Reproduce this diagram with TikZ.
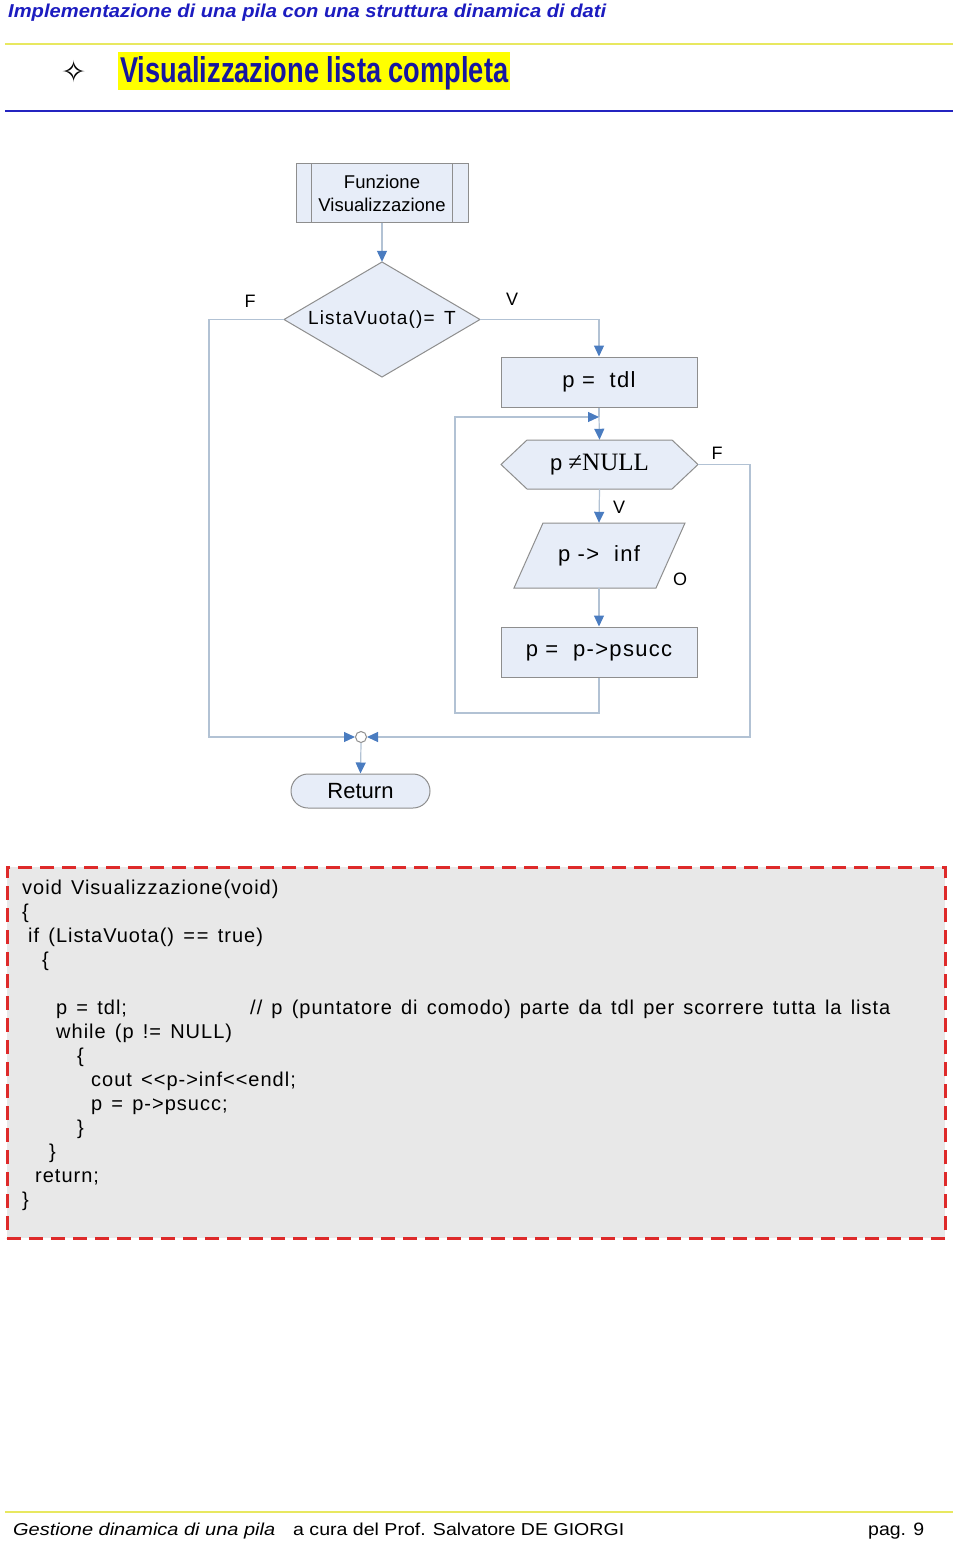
\documentclass[tikz,border=0pt]{standalone}
\usepackage{fontspec}
\setmainfont{Liberation Sans}
\newfontfamily\serifnull{Liberation Serif}
\newfontfamily\symfont{DejaVu Sans}
\newfontfamily\fcfont[LetterSpace=6]{Liberation Sans}
\newfontfamily\codefont[LetterSpace=5,WordSpace=1.4]{Liberation Sans}
\usetikzlibrary{arrows.meta,shapes.geometric,calc}
\definecolor{nodefill}{HTML}{E7EDF8}
\definecolor{nodeline}{HTML}{8E8E8E}
\definecolor{conline}{HTML}{B2C2D4}
\definecolor{arrowblue}{HTML}{4A7CC0}
\definecolor{hdrblue}{HTML}{1C1CC0}
\definecolor{titleblue}{HTML}{1616A0}
\definecolor{hlyellow}{HTML}{FFFF00}
\definecolor{ruleyellow}{HTML}{E8E860}
\definecolor{ruleblue}{HTML}{2424C0}
\definecolor{codebg}{HTML}{E8E8E8}
\definecolor{codered}{HTML}{DE2A2A}
\tikzset{
  fbox/.style={draw=nodeline, fill=nodefill, line width=1pt, inner sep=0pt, align=center},
  shapeline/.style={fill=nodefill, draw=nodeline, line width=1pt},
  con/.style={draw=conline, line width=1.2pt},
  arr/.style={con, -{Triangle[length=11pt,width=10pt,color=arrowblue]}},
  lbl/.style={inner sep=0pt, font=\fontsize{18}{20}\selectfont},
  codeline/.style={inner sep=0pt, anchor=base west, font=\codefont\fontsize{20}{24}\selectfont},
  rule/.style={line width=2.5pt},
}
\begin{document}
\begin{tikzpicture}[x=1pt,y=-1pt]
\useasboundingbox (0,0) rectangle (960,1541);
\fill[white] (0,0) rectangle (960,1541);

% header
\node[anchor=base west, inner sep=0pt, text=hdrblue] (hdr) at (8,18)
  {\resizebox{598pt}{13.5pt}{\bfseries\itshape Implementazione di una pila con una struttura dinamica di dati}};
\draw[rule, ruleyellow] (5,44) -- (953,44);
\node[inner sep=0pt, font=\symfont\fontsize{30}{30}\selectfont] (star) at (74,72) {✧};
\node[fill=hlyellow, minimum width=392, minimum height=38, inner sep=0pt] (titlebg) at (314,71) {};
\node[anchor=base west, inner sep=0pt, text=titleblue] (title) at (120,83)
  {\resizebox{388pt}{26pt}{\bfseries Visualizzazione lista completa}};
\draw[line width=2pt, ruleblue] (5,111) -- (953,111);

% flowchart
\node[fbox, minimum width=172, minimum height=58, font=\fontsize{18.5}{23}\selectfont] (fn) at (382,193) {Funzione\\Visualizzazione};
\draw[draw=nodeline, line width=1pt] ($(fn.north west)+(16,0)$) -- ($(fn.south west)+(16,0)$);
\draw[draw=nodeline, line width=1pt] ($(fn.north east)+(-16,0)$) -- ($(fn.south east)+(-16,0)$);

\filldraw[shapeline] (284,319.5) -- (382,262) -- (480,319.5) -- (382,377) -- cycle;
\node[inner sep=0pt, minimum width=196, minimum height=115, font=\fcfont\fontsize{19}{22}\selectfont] (lv) at (382,319.5) {ListaVuota()= \,T};

\node[fbox, minimum width=196, minimum height=50, font=\fcfont\fontsize{22}{24}\selectfont] (tdl) at (599,382) {p = \ tdl};

\filldraw[shapeline] (501,464.5) -- (527,440) -- (672,440) -- (698,464.5) -- (672,489) -- (527,489) -- cycle;
\node[inner sep=0pt, minimum width=197, minimum height=49] (nn) at (599.5,464.5) {\fontsize{22}{24}\selectfont p \serifnull\fontsize{25}{26}\selectfont ≠NULL};

\filldraw[shapeline] (543,523) -- (685,523) -- (656,588) -- (514,588) -- cycle;
\node[inner sep=0pt, minimum width=140, minimum height=65, font=\fcfont\fontsize{22}{24}\selectfont] (inf) at (599,555.5) {p -> \ inf};

\node[fbox, minimum width=196, minimum height=50, font=\fcfont\fontsize{22}{24}\selectfont] (ps) at (599,652) {p = \ p->psucc};

\node[circle, draw=nodeline, fill=white, line width=1pt, minimum size=11, inner sep=0pt] (j) at (361,737) {};
\node[fbox, rounded corners=17, minimum width=139, minimum height=34, font=\fontsize{22}{24}\selectfont] (ret) at (360.5,791) {Return};

\coordinate (lc) at (209,319.5);
\coordinate (rc) at (750,737);
\coordinate (lb) at (455,713);
\coordinate (lin) at (599,417);

\draw[arr] (fn.south) -- (lv.north);
\draw[arr] (lv.west) -- (lc) |- (j.west);
\draw[arr] (lv.east) -| (tdl.north);
\draw[con] (tdl.south) -- (lin);
\draw[arr] (lin) -- (nn.north);
\draw[arr] (ps.south) |- (lb) |- (lin);
\draw[arr] (nn.east) -| (rc) -- (j.east);
\draw[arr] (nn.south) -- (inf.north);
\draw[arr] (inf.south) -- (ps.north);
\draw[arr] (j.south) -- (ret.north);

\node[lbl] (lF) at (250,301) {F};
\node[lbl] (lV) at (512,299) {V};
\node[lbl] (nF) at (717,453) {F};
\node[lbl] (nV) at (619,507) {V};
\node[lbl] (lO) at (680,579) {O};

% code
\node[draw=codered, fill=codebg, line width=2.5pt, dash pattern=on 14pt off 8pt, minimum width=938, minimum height=371, inner sep=0pt, anchor=north west] (code) at (6,866) {};
\node[codeline] (c1) at (22,894.5) {void Visualizzazione(void)};
\node[codeline] (c2) at (22,918.5) {\{};
\node[codeline] (c3) at (28,942.5) {if (ListaVuota() =\kern2pt= true)};
\node[codeline] (c4) at (42,966.5) {\{};
\node[codeline] (c5) at (56,1014.5) {p = tdl;};
\node[codeline] (c5b) at (250,1014.5) {// p (puntatore di comodo) parte da tdl per scorrere tutta la lista};
\node[codeline] (c6) at (56,1038.5) {while (p != NULL)};
\node[codeline] (c7) at (77,1062.5) {\{};
\node[codeline] (c8) at (91,1086.5) {cout <\kern1pt<p->inf<\kern1pt<endl;};
\node[codeline] (c9) at (91,1110.5) {p = p->psucc;};
\node[codeline] (c10) at (77,1134.5) {\}};
\node[codeline] (c11) at (49,1158.5) {\}};
\node[codeline] (c12) at (35,1182.5) {return;};
\node[codeline] (c13) at (22,1206.5) {\}};

% footer
\draw[rule, ruleyellow] (5,1512) -- (953,1512);
\node[anchor=base west, inner sep=0pt] (f1) at (13,1535.5) {\resizebox{262pt}{12.5pt}{\itshape Gestione dinamica di una pila}};
\node[anchor=base west, inner sep=0pt] (f2) at (293,1535.5) {\resizebox{331pt}{12.5pt}{a cura del Prof. Salvatore DE GIORGI}};
\node[anchor=base west, inner sep=0pt] (f3) at (868,1535.5) {\resizebox{56pt}{12.5pt}{pag. 9}};
\end{tikzpicture}
\end{document}
